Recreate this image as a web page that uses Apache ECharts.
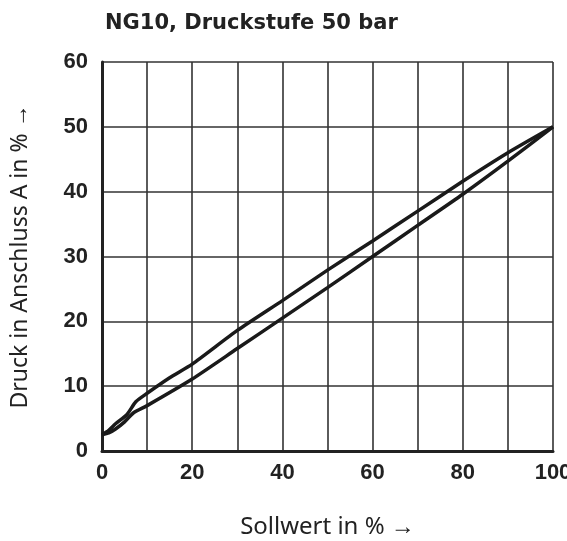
<!DOCTYPE html>
<html>
<head>
<meta charset="utf-8">
<script src="https://cdn.jsdelivr.net/npm/echarts@6/dist/echarts.min.js"></script>
<style>
  html, body { margin: 0; padding: 0; background: #fff; }
  #chart { width: 567px; height: 541px; }
</style>
</head>
<body>
<div id="chart"></div>
<script>
// Sollwert (%) -> Druck (%) for the two branches of the curve
const upperX = [0, 1.5, 3, 5.5, 7.5, 10, 15, 20, 30, 40, 50, 60, 70, 80, 90, 100]
const upperY = [2.5, 3.2, 4.2, 5.6, 7.6, 8.9, 11.3, 13.4, 18.6, 23.2, 27.9, 32.4, 37, 41.6, 46, 50]
const lowerX = [0, 1.5, 3, 5, 7, 10, 20, 30, 40, 50, 60, 70, 80, 90, 100]
const lowerY = [2.5, 2.8, 3.4, 4.5, 5.9, 7, 11.1, 15.8, 20.5, 25.2, 30, 34.8, 39.6, 44.7, 50]

const title = 'NG10, Druckstufe 50 bar'
const xName = 'Sollwert in % →'
const yName = 'Druck in Anschluss A in % →'

const chart = echarts.init(document.getElementById('chart'))

const pair = (xs, ys) => xs.map((x, i) => [x, ys[i]])

const labelStyle = {
  fontFamily: '"Liberation Sans Narrow", "Liberation Sans", sans-serif',
  fontWeight: 'bold',
  fontSize: 22,
  color: '#222',
}
const nameStyle = {
  fontFamily: '"Noto Sans", sans-serif',
  fontSize: 23,
  color: '#222',
}

chart.setOption({
  animation: false,
  title: {
    text: title,
    left: 100,
    top: 8,
    textStyle: { fontFamily: '"DejaVu Sans", sans-serif', fontWeight: 'bold', fontSize: 21, color: '#222' },
  },
  grid: { left: 102, right: 14, top: 62, bottom: 90, containLabel: false, outerBoundsMode: 'none' },
  xAxis: {
    type: 'value',
    min: 0,
    max: 100,
    interval: 10,
    name: xName,
    nameLocation: 'middle',
    nameGap: 64,
    nameTextStyle: { ...nameStyle, fontSize: 24 },
    axisLine: { show: true, lineStyle: { color: '#222', width: 3 } },
    axisTick: { show: false },
    axisLabel: {
      ...labelStyle,
      margin: 11,
      formatter: v => (v % 20 === 0 ? String(v) : ''),
    },
    splitLine: { show: true, lineStyle: { color: '#333', width: 1.6 } },
  },
  yAxis: {
    type: 'value',
    min: 0,
    max: 60,
    interval: 10,
    name: yName,
    nameLocation: 'middle',
    nameGap: 70,
    nameTextStyle: nameStyle,
    axisLine: { show: true, lineStyle: { color: '#222', width: 3 } },
    axisTick: { show: false },
    axisLabel: { ...labelStyle, margin: 14 },
    splitLine: { show: true, lineStyle: { color: '#333', width: 1.6 } },
  },
  series: [
    {
      type: 'line',
      data: pair(upperX, upperY),
      showSymbol: false,
      smooth: 0.2,
      lineStyle: { color: '#1a1a1a', width: 3.5 },
    },
    {
      type: 'line',
      data: pair(lowerX, lowerY),
      showSymbol: false,
      smooth: 0.2,
      lineStyle: { color: '#1a1a1a', width: 3.5 },
    },
  ],
})
</script>
</body>
</html>
